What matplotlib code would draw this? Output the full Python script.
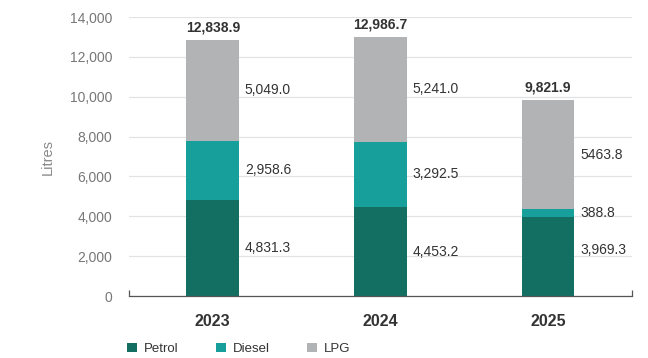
#!/usr/bin/env python3
"""Stacked fuel consumption per year (petrol, diesel, LPG) in litres."""

import matplotlib

matplotlib.use("Agg")
import matplotlib.pyplot as plt
from matplotlib.patches import Patch
import numpy as np

plt.rcParams["font.family"] = ["Liberation Sans", "DejaVu Sans"]

years = ["2023", "2024", "2025"]
fuels = ["Petrol", "Diesel", "LPG"]
petrol = [4831.3, 4453.2, 3969.3]
diesel = [2958.6, 3292.5, 388.8]
lpg = [5049.0, 5241.0, 5463.8]
totals = [12838.9, 12986.7, 9821.9]
segment_labels = [
    ["4,831.3", "4,453.2", "3,969.3"],
    ["2,958.6", "3,292.5", "388.8"],
    ["5,049.0", "5,241.0", "5463.8"],
]
total_labels = ["12,838.9", "12,986.7", "9,821.9"]
colors = ["#136F62", "#17A09B", "#B2B3B5"]

fig = plt.figure(figsize=(6.48, 3.58), dpi=100)
ax = fig.add_axes([0.199, 0.173, 0.776, 0.7795])

x = np.arange(len(years))
width = 0.316
bottom = np.zeros(len(years))
for series, labels, color in zip((petrol, diesel, lpg), segment_labels, colors):
    vals = np.asarray(series)
    ax.bar(x, vals, width, bottom=bottom, color=color, zorder=2)
    for i, (v, lab) in enumerate(zip(vals, labels)):
        # the small 2025 diesel slice pushes the petrol label up a little
        dy = 5 if (color == colors[0] and i == 2) else 0
        ax.annotate(lab, (x[i] + width / 2, bottom[i] + v / 2),
                    xytext=(4, dy), textcoords="offset points",
                    ha="left", va="center", fontsize=10, color="#333333")
    bottom += vals

for i, (t, lab) in enumerate(zip(totals, total_labels)):
    ax.annotate(lab, (x[i], t), xytext=(0, 4), textcoords="offset points",
                ha="center", va="bottom", fontsize=10, fontweight="bold",
                color="#333333")

ax.set_xlim(-0.5, 2.5)
ax.set_ylim(0, 14000)
ax.set_yticks(np.arange(0, 14001, 2000))
ax.set_yticklabels([f"{v:,}" for v in range(0, 14001, 2000)])
ax.tick_params(axis="y", length=0, pad=12, labelsize=10, labelcolor="#777777")
ax.grid(axis="y", color="#E3E3E3", lw=0.9, zorder=0)

# year labels on minor ticks, small end marks on the baseline as major ticks
ax.set_xticks([-0.5, 2.5])
ax.set_xticklabels([])
ax.tick_params(axis="x", which="major", direction="in", length=4,
               color="#555555", width=0.9)
ax.set_xticks(x, minor=True)
ax.set_xticklabels(years, minor=True)
ax.tick_params(axis="x", which="minor", length=0, pad=13, labelsize=11.5,
               labelcolor="#333333")
for lab in ax.get_xticklabels(minor=True):
    lab.set_fontweight("bold")

for side in ("left", "right", "top"):
    ax.spines[side].set_visible(False)
ax.spines["bottom"].set_color("#555555")
ax.spines["bottom"].set_linewidth(0.9)

ax.set_ylabel("Litres", fontsize=10.5, color="#888888", labelpad=11)

handles = [Patch(facecolor=c, edgecolor="none") for c in colors]
fig.legend(handles, fuels, loc="center left", bbox_to_anchor=(0.178, 0.025),
           ncol=3, frameon=False, fontsize=9.5, handlelength=0.75,
           handleheight=0.75, handletextpad=0.55, columnspacing=2.8,
           labelcolor="#333333")

fig.savefig("out.png", dpi=100)
plt.close(fig)
